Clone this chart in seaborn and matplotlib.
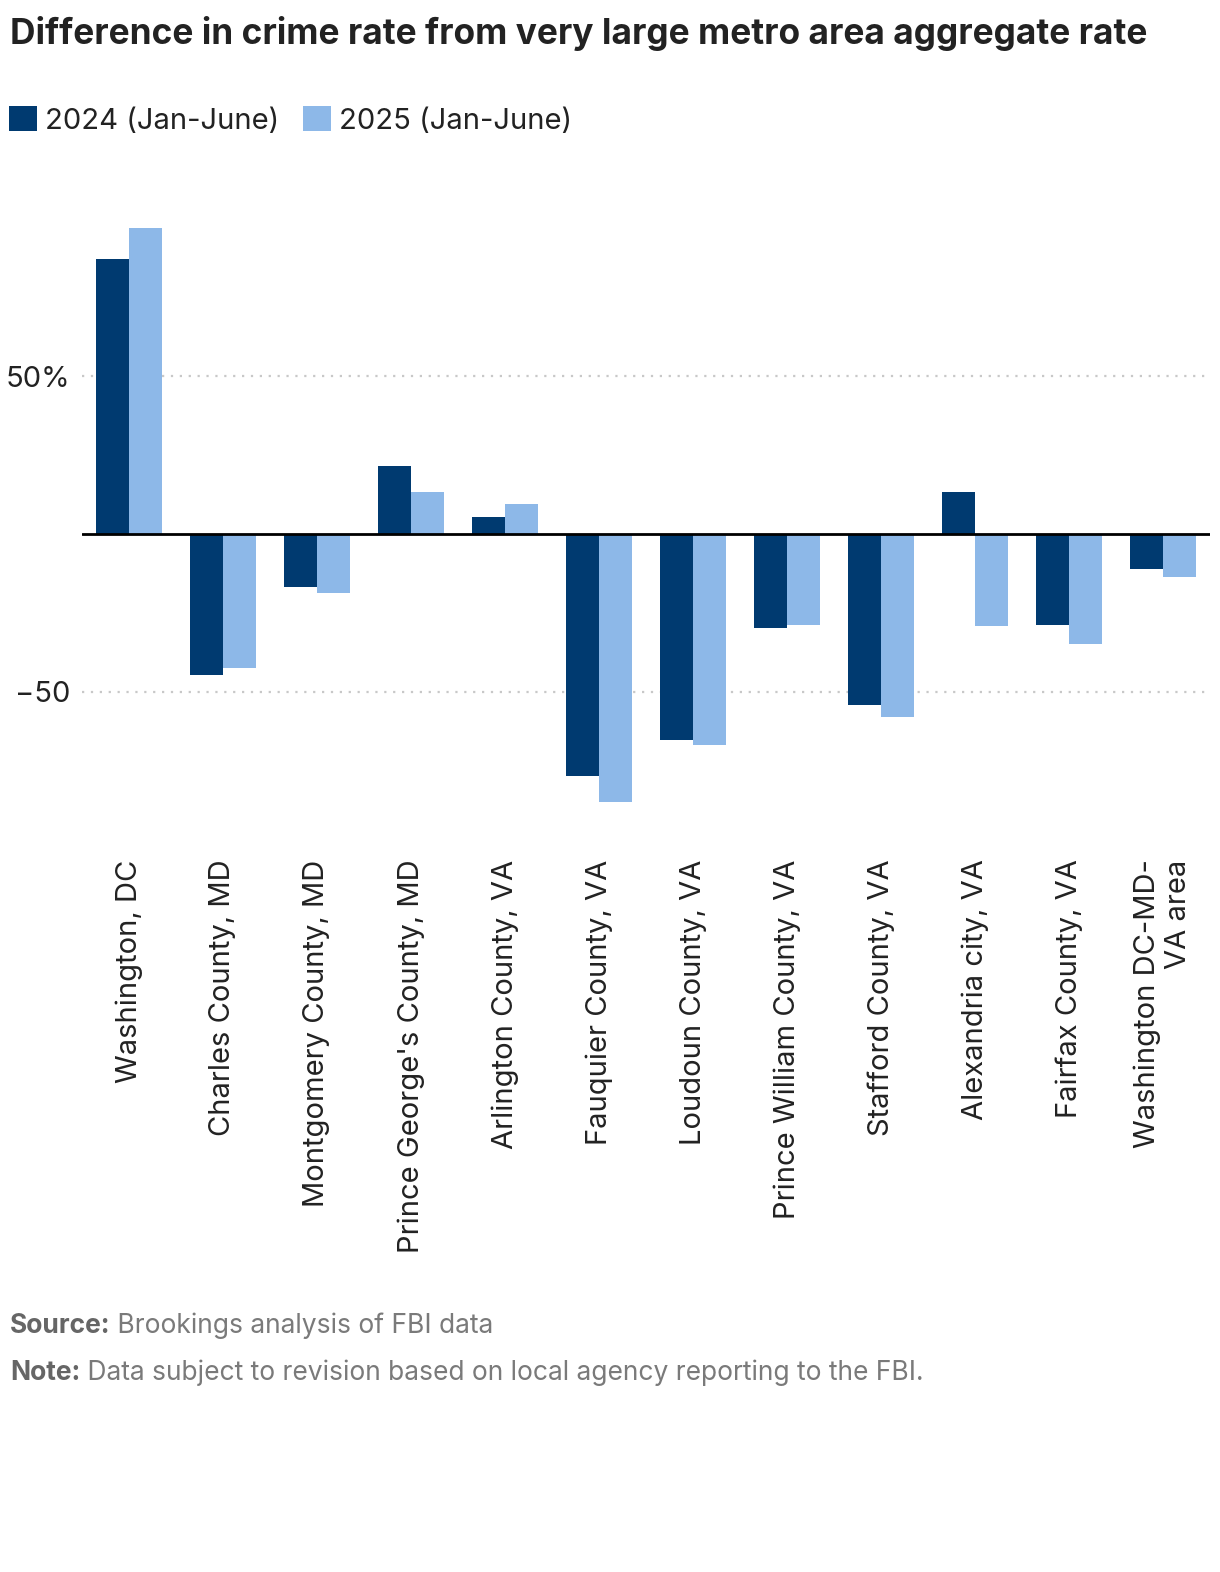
import numpy as np
import pandas as pd
import matplotlib
matplotlib.use("Agg")
import matplotlib.pyplot as plt
from matplotlib.patches import Patch
from matplotlib.ticker import FixedLocator, FuncFormatter
import seaborn as sns

places = [
    "Washington, DC", "Charles County, MD", "Montgomery County, MD",
    "Prince George's County, MD", "Arlington County, VA", "Fauquier County, VA",
    "Loudoun County, VA", "Prince William County, VA", "Stafford County, VA",
    "Alexandria city, VA", "Fairfax County, VA", "Washington DC-MD-\nVA area",
]
diff_2024 = [87.3, -44.8, -16.8, 21.6, 5.4, -76.8, -65.4, -29.8, -54.3, 13.3, -28.9, -11.1]
diff_2025 = [97.1, -42.5, -18.7, 13.3, 9.5, -84.8, -67.0, -28.9, -58.1, -29.2, -34.9, -13.7]
series = ["2024 (Jan-June)", "2025 (Jan-June)"]
colors = ["#003A70", "#8DB8E8"]

df = pd.DataFrame({
    "place": places * 2,
    "value": diff_2024 + diff_2025,
    "period": [series[0]] * len(places) + [series[1]] * len(places),
})

sns.set_style("white")
plt.rcParams["font.family"] = ["Inter", "DejaVu Sans"]
text_color = "#222222"

fig = plt.figure(figsize=(12.2, 15.72), dpi=100)
ax = fig.add_axes([82 / 1220, 1 - 840 / 1572, 1128 / 1220, 637 / 1572])

sns.barplot(data=df, x="place", y="value", hue="period", palette=colors,
            width=0.7, saturation=1, ax=ax, legend=False, zorder=3,
            edgecolor="none", linewidth=0)

ax.set_xlim(-0.5, len(places) - 0.5)
ax.set_ylim(-97, 105)
for s in ax.spines.values():
    s.set_visible(False)

# grid + zero line
for v in [-50, 50]:
    ax.axhline(v, color="#c8c8c8", lw=1.6, ls=(0, (1, 3)), zorder=1)
ax.axhline(0, color="black", lw=2, zorder=4)

ax.yaxis.set_major_locator(FixedLocator([-50, 50]))
ax.yaxis.set_major_formatter(FuncFormatter(lambda v, p: "50%" if v > 0 else "\u221250"))
ax.tick_params(axis="y", length=0, pad=8.5, labelsize=21, labelcolor=text_color)
ax.tick_params(axis="x", length=0, pad=14, labelsize=21, labelcolor=text_color)
ax.set_xticks(range(len(places)))
ax.set_xticklabels(places, rotation=90, ha="center", va="top", multialignment="right")
ax.set_xlabel("")
ax.set_ylabel("")

fig.text(10 / 1220, 1 - 44 / 1572, "Difference in crime rate from very large metro area aggregate rate",
         fontsize=25.4, fontweight="bold", color=text_color, ha="left", va="baseline")

handles = [Patch(facecolor=c, edgecolor="none", label=s) for c, s in zip(colors, series)]
fig.legend(handles=handles, loc="upper left", bbox_to_anchor=(9 / 1220, 1 - 106 / 1572),
           ncol=2, frameon=False, fontsize=21, handlelength=0.95, handleheight=0.95,
           handletextpad=0.3, columnspacing=0.8, borderaxespad=0, borderpad=0,
           labelcolor=text_color)

renderer = fig.canvas.get_renderer()
for y, head, body in [(1333, "Source:", " Brookings analysis of FBI data"),
                      (1380, "Note:", " Data subject to revision based on local agency reporting to the FBI.")]:
    t = fig.text(10 / 1220, 1 - y / 1572, head, fontsize=19, fontweight="bold",
                 color="#666666", ha="left", va="baseline")
    bb = t.get_window_extent(renderer)
    fig.text(bb.x1 / 1220, 1 - y / 1572, body, fontsize=19,
             color="#7a7a7a", ha="left", va="baseline")

fig.savefig("out.png", dpi=100)
